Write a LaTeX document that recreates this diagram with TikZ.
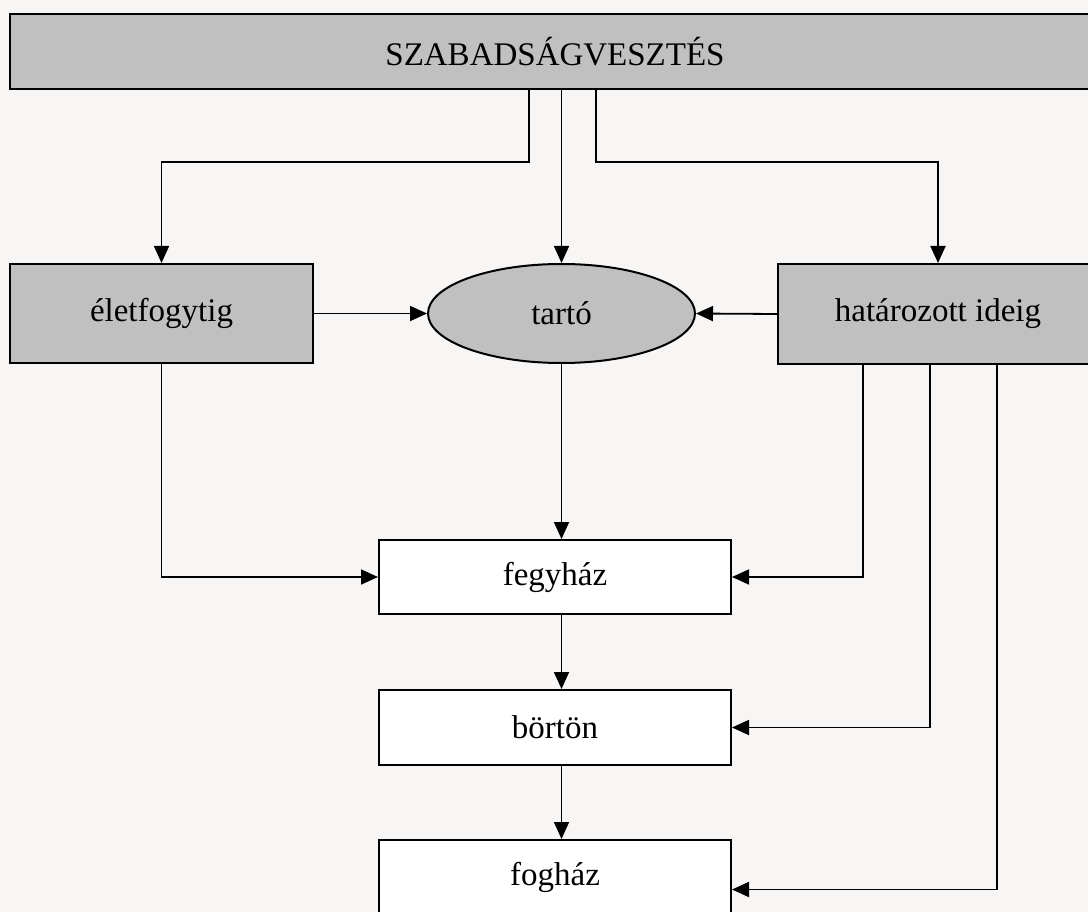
\documentclass[tikz,border=0pt]{standalone}
\usepackage{fontspec}
\setmainfont{Liberation Serif}
\usetikzlibrary{shapes.geometric,arrows.meta}
\definecolor{bg}{HTML}{F7F6F4}
\definecolor{boxgray}{HTML}{C0C0C0}
\tikzset{
  basebox/.style={draw, line width=2pt, inner sep=0pt, font=\fontsize{33}{40}\selectfont},
  graybox/.style={basebox, fill=boxgray},
  whitebox/.style={basebox, fill=white},
  arr/.style={line width=1.8pt, -{Triangle[length=17pt,width=15pt]}},
}
\begin{document}
\begin{tikzpicture}[x=1pt,y=-1pt]
\fill[bg] (0,0) rectangle (1088,912);
\useasboundingbox (0,0) rectangle (1088,912);
\clip (0,0) rectangle (1088,912);

\node[graybox, minimum width=1090pt, minimum height=75pt] (top) at (555,51.5) {SZABADSÁGVESZTÉS};
\node[graybox, minimum width=303pt, minimum height=99pt] (elet) at (161.5,313.5) {életfogytig};
\node[graybox, ellipse, minimum width=267pt, minimum height=99pt] (tarto) at (561.5,313.5) {tartó};
\node[graybox, minimum width=320pt, minimum height=100pt] (hat) at (938,314) {határozott ideig};
\node[whitebox, minimum width=352pt, minimum height=74pt] (fegy) at (555,577) {fegyház};
\node[whitebox, minimum width=352pt, minimum height=75pt] (bort) at (555,727.5) {börtön};
\node[whitebox, minimum width=352pt, minimum height=75pt] (fogh) at (555,877.5) {fogház};

\coordinate (t1) at (529,89);
\coordinate (t3) at (596,89);
\draw[arr] (t1) -- (529,162) -| (elet.north);
\draw[arr] (top.south -| tarto.north) -- (tarto.north);
\draw[arr] (t3) -- (596,162) -| (hat.north);

\draw[arr] (elet.east) -- (tarto.west);
\draw[arr] (hat.west) -- (tarto.east);

\draw[arr] (elet.south) |- (fegy.west);
\draw[arr] (tarto.south) -- (tarto.south |- fegy.north);

\coordinate (h1) at (863,364);
\coordinate (h2) at (930,364);
\coordinate (h3) at (997,364);
\draw[arr] (h1) |- (fegy.east);
\draw[arr] (h2) |- (bort.east);
\draw[arr] (h3) |- ([yshift=-12pt]fogh.east);

\draw[arr] (fegy.south -| tarto.south) -- (bort.north -| tarto.south);
\draw[arr] (bort.south -| tarto.south) -- (fogh.north -| tarto.south);
\end{tikzpicture}
\end{document}
